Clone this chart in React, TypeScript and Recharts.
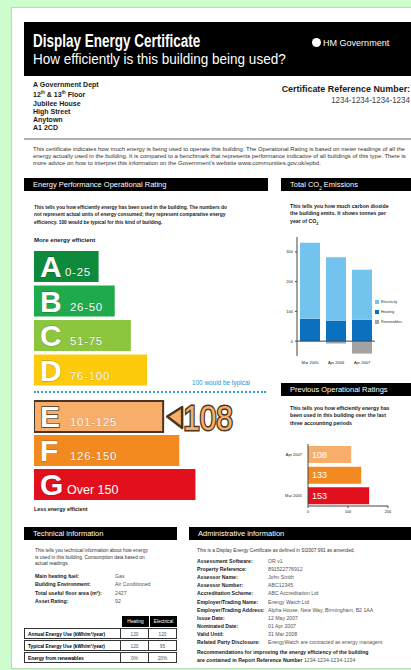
import React from "react";
import { BarChart, Bar, XAxis, YAxis, Cell, ReferenceLine, LabelList } from "recharts";

// operational rating bands
const bandLetters = ["A", "B", "C", "D", "E", "F", "G"];
const bandRanges = ["0-25", "26-50", "51-75", "76-100", "101-125", "126-150", "Over 150"];
const bandLengths = [4, 5, 6, 7, 8, 9, 10];
const bandLimits = [25, 50, 75, 100, 125, 150, Infinity];
const currentRating = 108;
const typicalRating = 100;

// total CO2 emissions (tonnes per year)
const co2Periods = ["Mar 2005", "Apr 2006", "Apr 2007"];
const co2Heating = [75, 69, 72];
const co2Electricity = [256, 213, 168];
const co2Renewables = [0, -8, -42];
const co2Ticks = [-50, 0, 100, 200, 300];

// previous operational ratings
const prevPeriods = ["Apr 2007", "Apr 2006", "Mar 2005"];
const prevRatings = [108, 133, 153];
const prevTicks = [0, 50, 100, 150, 200];

const BAND_COLORS = ["#0d8a3b", "#1fab4b", "#8cc63f", "#fdcb0b", "#f7ae6a", "#f28a20", "#e2101d"];
const CO2_COLORS = { electricity: "#72c4ef", heating: "#0b70c0", renewables: "#a3a3a3" };
const FONT = '"Liberation Sans", Arial, sans-serif';
const DARK = "#4a3520";

const bandIndexFor = (v: number) => bandLimits.findIndex((l) => v <= l);

const bandRows = bandLetters.map((letter, i) => ({ letter, range: bandRanges[i], length: bandLengths[i] }));
const co2Rows = co2Periods.map((period, i) => ({
  period,
  heating: co2Heating[i],
  electricity: co2Electricity[i],
  renewables: co2Renewables[i],
}));
const prevRows = prevPeriods.map((period, i) => ({ period, rating: prevRatings[i] }));

function BandShape(props: any) {
  const { x, y, width, height, payload } = props;
  const idx = bandLetters.indexOf(payload.letter);
  const isCurrent = idx === bandIndexFor(currentRating);
  const color = BAND_COLORS[idx];
  const rangeX = idx === 0 ? x + 31 : idx === 6 ? x + 33 : x + 36;
  return (
    <g>
      <rect
        x={x}
        y={y}
        width={width}
        height={height}
        fill={color}
        stroke={isCurrent ? DARK : "none"}
        strokeWidth={isCurrent ? 2 : 0}
      />
      <text
        x={x + 6}
        y={y + height - 5}
        fontSize={30}
        fontWeight={700}
        fontFamily={FONT}
        fill="#fff"
        stroke={isCurrent ? DARK : "rgba(0,0,0,0.3)"}
        strokeWidth={isCurrent ? 1.5 : 0.8}
        paintOrder="stroke"
      >
        {payload.letter}
      </text>
      <text
        x={rangeX}
        y={y + height - 6}
        fontSize={idx === 6 ? 12.5 : 11.5}
        letterSpacing={idx === 6 ? 0 : 0.7}
        fontFamily={FONT}
        fill="#fff"
        stroke={idx === 6 ? "none" : "rgba(0,0,0,0.25)"}
        strokeWidth={0.6}
        paintOrder="stroke"
      >
        {payload.range}
      </text>
      {isCurrent && (
        <g>
          <polygon
            points={`${x + width + 4},${y + height / 2} ${x + width + 19},${y + 6} ${x + width + 19},${y + height - 4}`}
            fill={color}
            stroke={DARK}
            strokeWidth={2.5}
            strokeLinejoin="round"
          />
          <text
            transform={`translate(${x + width + 20},${y + height - 2}) scale(0.83,1)`}
            fontSize={36}
            fontFamily={FONT}
            fill={color}
            stroke={DARK}
            strokeWidth={3}
            paintOrder="stroke"
          >
            {currentRating}
          </text>
        </g>
      )}
    </g>
  );
}

function BandChart({ rows, top, height }: { rows: typeof bandRows; top: number; height: number }) {
  // 8px of headroom above the bars so the rating marker text stays inside the svg
  return (
    <div style={{ position: "absolute", left: 34, top: top - 8 }}>
      <BarChart width={226} height={height + 8} data={rows} layout="vertical" margin={{ top: 8, right: 0, bottom: 0, left: 0 }}>
        <XAxis type="number" domain={[0, 14]} hide />
        <YAxis type="category" dataKey="letter" hide />
        <Bar dataKey="length" barSize={31} isAnimationActive={false} shape={<BandShape />} />
      </BarChart>
    </div>
  );
}

function SmallTick(props: any) {
  const { x, y, payload, textAnchor, dy } = props;
  return (
    <text x={x} y={y} dy={dy ?? "0.355em"} textAnchor={textAnchor} fontSize={4} fill="#222" fontFamily={FONT}>
      {payload.value}
    </text>
  );
}

function T({ x, y, size, bold, color, children, right, lh, sx }: any) {
  return (
    <div
      style={{
        position: "absolute",
        left: right ? undefined : x,
        right: right ? 411 - x : undefined,
        top: y,
        fontSize: size,
        fontWeight: bold ? 700 : 400,
        color: color || "#1a1a1a",
        lineHeight: lh ? `${lh}px` : 1,
        whiteSpace: "nowrap",
        textAlign: right ? "right" : "left",
        transform: sx ? `scaleX(${sx})` : undefined,
        transformOrigin: right ? "right top" : "left top",
      }}
    >
      {children}
    </div>
  );
}

function Bar_({ x, y, w, label }: { x: number; y: number; w: number; label: React.ReactNode }) {
  return (
    <div
      style={{
        position: "absolute",
        left: x,
        top: y,
        width: w,
        height: 13,
        background: "#000",
        color: "#fff",
        fontSize: 7.5,
        lineHeight: "13px",
        paddingLeft: 9,
        boxSizing: "border-box",
        whiteSpace: "nowrap",
      }}
    >
      {label}
    </div>
  );
}

const techLabels = ["Main heating fuel:", "Building Environment:", "Total useful floor area (m²):", "Asset Rating:"];
const techValues = ["Gas", "Air Conditioned", "2427", "92"];
const useRows = [
  ["Annual Energy Use (kWh/m²/year)", "120", "120"],
  ["Typical Energy Use (kWh/m²/year)", "120", "95"],
  ["Energy from renewables", "0%", "20%"],
];
const adminLabels = [
  "Assessment Software:",
  "Property Reference:",
  "Assessor Name:",
  "Assessor Number:",
  "Accreditation Scheme:",
  "Employer/Trading Name:",
  "Employer/Trading Address:",
  "Issue Date:",
  "Nominated Date:",
  "Valid Until:",
  "Related Party Disclosure:",
];
const adminValues = [
  "OR v1",
  "891522776912",
  "John Smith",
  "ABC12345",
  "ABC Accreditation Ltd",
  "Energy Watch Ltd",
  "Alpha House, New Way, Birmingham, B2 1AA",
  "12 May 2007",
  "01 Apr 2007",
  "31 Mar 2008",
  "EnergyWatch are contracted as energy managers",
];

export default function App() {
  return (
    <div
      style={{
        position: "absolute",
        left: 0,
        top: 0,
        width: 411,
        height: 670,
        overflow: "hidden",
        background: "#cdfccd",
        fontFamily: FONT,
      }}
    >
      <div style={{ position: "absolute", left: 11, top: 7, width: 420, height: 660, background: "#fff", border: "1px solid #b9d9b9" }} />

      {/* header */}
      <div style={{ position: "absolute", left: 24, top: 22, width: 400, height: 54, background: "#000" }} />
      <T x={33} y={32} size={18} bold color="#fff" sx={0.75}>Display Energy Certificate</T>
      <T x={33} y={51} size={15} color="#fff" sx={0.9}>How efficiently is this building being used?</T>
      <div style={{ position: "absolute", left: 312, top: 38, width: 9, height: 9, borderRadius: 5, background: "#fff" }} />
      <T x={323} y={38} size={9.5} color="#fff" sx={0.95}>HM Government</T>

      <T x={33} y={81} size={7.4} bold lh={8.2} sx={0.95}>
        A Government Dept<br />
        12<sup style={{ fontSize: 4.5 }}>th</sup> &amp; 13<sup style={{ fontSize: 4.5 }}>th</sup> Floor<br />
        Jubilee House<br />
        High Street<br />
        Anytown<br />
        A1 2CD
      </T>
      <T x={410} y={84} size={9.6} bold right sx={0.93}>Certificate Reference Number:</T>
      <T x={410} y={96} size={8.4} color="#444" right sx={0.95}>1234-1234-1234-1234</T>
      <div style={{ position: "absolute", left: 24, top: 138, width: 400, height: 1.5, background: "#b0b0b0" }} />

      <T x={33} y={146} size={5.95} lh={7.2} color="#333">
        This certificate indicates how much energy is being used to operate this building. The Operational Rating is based on meter readings of all the<br />
        energy actually used in the building. It is compared to a benchmark that represents performance indicative of all buildings of this type. There is<br />
        more advice on how to interpret this information on the Government's website www.communities.gov.uk/epbd.
      </T>

      {/* rating */}
      <Bar_ x={24} y={178} w={244} label="Energy Performance Operational Rating" />
      <T x={34} y={204} size={4.85} bold lh={7.4}>
        This tells you how efficiently energy has been used in the building. The numbers do<br />
        not represent actual units of energy consumed; they represent comparative energy<br />
        efficiency. {typicalRating} would be typical for this kind of building.
      </T>
      <T x={34} y={237} size={6.1} bold>More energy efficient</T>
      <BandChart rows={bandRows.slice(0, 4)} top={249} height={138} />
      <T x={192} y={380} size={6.4} color="#2b93d1">{typicalRating} would be typical</T>
      <div style={{ position: "absolute", left: 34, top: 391, width: 232, borderTop: "2.5px dotted #3399d6" }} />
      <BandChart rows={bandRows.slice(4)} top={399} height={102} />
      <T x={34} y={507} size={5.4} bold>Less energy efficient</T>

      {/* CO2 */}
      <Bar_ x={281} y={178} w={140} label={<span>Total CO<sub style={{ fontSize: 4.5 }}>2</sub> Emissions</span>} />
      <T x={290} y={203} size={5.2} bold lh={7.3}>
        This tells you how much carbon dioxide<br />
        the building emits. It shows tonnes per<br />
        year of CO<sub style={{ fontSize: 3.6 }}>2</sub>
      </T>
      <div style={{ position: "absolute", left: 280, top: 230 }}>
        <BarChart width={125} height={138} data={co2Rows} stackOffset="sign" barSize={20} margin={{ top: 7, right: 30, bottom: 0, left: 0 }}>
          <XAxis dataKey="period" axisLine={false} tickLine={false} tickSize={3} height={12} interval={0} tick={<SmallTick dy="0.71em" />} />
          <YAxis
            domain={[-50, 350]}
            ticks={co2Ticks}
            width={17}
            tickSize={2}
            tick={<SmallTick />}
            axisLine={{ stroke: "#444" }}
            tickLine={{ stroke: "#444" }}
          />
          <Bar dataKey="heating" stackId="a" fill={CO2_COLORS.heating} isAnimationActive={false} />
          <Bar dataKey="electricity" stackId="a" fill={CO2_COLORS.electricity} isAnimationActive={false} />
          <Bar dataKey="renewables" stackId="a" fill={CO2_COLORS.renewables} isAnimationActive={false} />
          <ReferenceLine y={0} stroke="#444" />
        </BarChart>
      </div>
      {[
        ["Electricity", CO2_COLORS.electricity],
        ["Heating", CO2_COLORS.heating],
        ["Renewables", CO2_COLORS.renewables],
      ].map(([name, c], i) => (
        <div key={name} style={{ position: "absolute", left: 375, top: 300 + i * 10, display: "flex", alignItems: "center" }}>
          <div style={{ width: 4, height: 4, background: c, marginRight: 2 }} />
          <span style={{ fontSize: 3.8, color: "#333" }}>{name}</span>
        </div>
      ))}

      {/* previous ratings */}
      <Bar_ x={281} y={383} w={140} label="Previous Operational Ratings" />
      <T x={290} y={405} size={5.2} bold lh={7.3}>
        This tells you how efficiently energy has<br />
        been used in this building over the last<br />
        three accounting periods
      </T>
      <div style={{ position: "absolute", left: 280, top: 440 }}>
        <BarChart width={125} height={80} data={prevRows} layout="vertical" barSize={17} margin={{ top: 4, right: 17, bottom: 0, left: 0 }}>
          <XAxis
            type="number"
            domain={[0, 200]}
            ticks={prevTicks}
            height={14}
            tickSize={2}
            tick={<SmallTick dy="0.71em" />}
            axisLine={{ stroke: "#444" }}
            tickLine={{ stroke: "#444" }}
          />
          <YAxis type="category" dataKey="period" width={28} tickSize={4} tickLine={false} tick={<SmallTick />} axisLine={{ stroke: "#444" }} />
          <Bar dataKey="rating" isAnimationActive={false}>
            {prevRows.map((r) => (
              <Cell key={r.period} fill={BAND_COLORS[bandIndexFor(r.rating)]} />
            ))}
            <LabelList dataKey="rating" position="insideLeft" offset={4} fill="#fff" fontSize={9} fontFamily={FONT} />
          </Bar>
        </BarChart>
      </div>

      {/* technical information */}
      <Bar_ x={24} y={527} w={153} label="Technical information" />
      <T x={35} y={548} size={4.8} lh={6.5} color="#333">
        This tells you technical information about how energy<br />
        is used in this building. Consumption data based on<br />
        actual readings.
      </T>
      {techLabels.map((l, i) => (
        <React.Fragment key={l}>
          <T x={35} y={574 + i * 8.3} size={5.2} bold>{l}</T>
          <T x={115} y={574 + i * 8.3} size={5.2} color="#555">{techValues[i]}</T>
        </React.Fragment>
      ))}
      <div style={{ position: "absolute", left: 122, top: 616, width: 27, height: 11, background: "#000", color: "#fff", fontSize: 4.8, lineHeight: "11px", textAlign: "center" }}>Heating</div>
      <div style={{ position: "absolute", left: 149, top: 616, width: 28, height: 11, background: "#000", color: "#fff", fontSize: 4.8, lineHeight: "11px", textAlign: "center", borderLeft: "1px solid #fff", boxSizing: "border-box" }}>Electrical</div>
      {useRows.map((r, i) => (
        <div key={r[0]} style={{ position: "absolute", left: 24, top: 628 + i * 12, height: 11, display: "flex", fontSize: 4.8, lineHeight: "11px" }}>
          <div style={{ width: 97, border: "1px solid #333", paddingLeft: 3, fontWeight: 700, boxSizing: "border-box" }}>{r[0]}</div>
          <div style={{ width: 28, border: "1px solid #333", borderLeft: "none", textAlign: "center", color: "#555", boxSizing: "border-box" }}>{r[1]}</div>
          <div style={{ width: 28, border: "1px solid #333", borderLeft: "none", textAlign: "center", color: "#555", boxSizing: "border-box" }}>{r[2]}</div>
        </div>
      ))}

      {/* administrative information */}
      <Bar_ x={189} y={527} w={240} label="Administrative information" />
      <T x={197} y={549} size={4.8} color="#333">This is a Display Energy Certificate as defined in SI2007:991 as amended.</T>
      {adminLabels.map((l, i) => (
        <React.Fragment key={l}>
          <T x={197} y={559 + i * 8.1} size={5.2} bold>{l}</T>
          <T x={268} y={559 + i * 8.1} size={5.2} color="#555">{adminValues[i]}</T>
        </React.Fragment>
      ))}
      <T x={197} y={559 + 11 * 8.1} size={5.2} bold lh={8.1}>
        Recommendations for improving the energy efficiency of the building<br />
        are contained in Report Reference Number <span style={{ fontWeight: 400, color: "#555" }}>1234-1234-1234-1234</span>
      </T>
    </div>
  );
}
